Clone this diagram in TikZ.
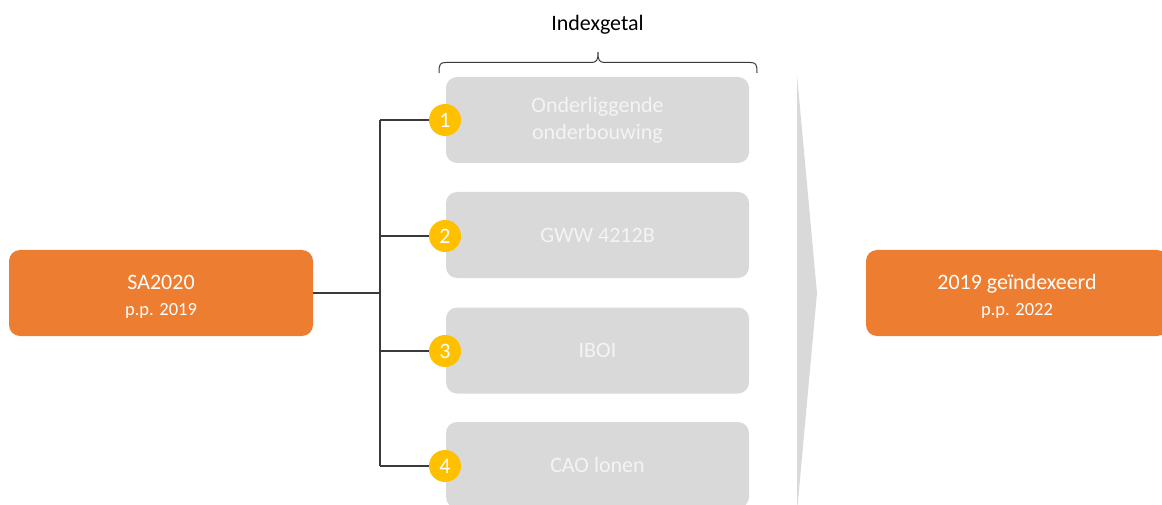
\documentclass[tikz,border=0pt]{standalone}
\usepackage{fontspec}
\setmainfont{Carlito}
\definecolor{orng}{HTML}{ED7D31}
\definecolor{grayb}{HTML}{D9D9D9}
\definecolor{yell}{HTML}{FFC000}
\definecolor{linec}{HTML}{3A3A3A}
\definecolor{gtext}{HTML}{F4F4F4}
\begin{document}
\begin{tikzpicture}[x=1pt,y=-1pt,
  obox/.style={fill=orng,rounded corners=11pt,minimum width=304pt,minimum height=86pt,inner sep=0pt},
  otext/.style={text=white,align=center,inner sep=0pt,font=\fontsize{18.5}{26}\selectfont},
  gbox/.style={fill=grayb,rounded corners=11pt,minimum width=303pt,minimum height=86pt,text=gtext,align=center,inner sep=0pt,font=\fontsize{22}{27}\selectfont},
  numc/.style={circle,fill=yell,minimum size=32pt,inner sep=0pt,text=white,font=\fontsize{22}{24}\selectfont},
  conn/.style={draw=linec,line width=1.3pt}]
\useasboundingbox (0,0) rectangle (1162,505);
\clip (0,0) rectangle (1162,505);
% chevron
\fill[grayb] (797,75) -- (817,293) -- (797,512) -- cycle;
% boxes
\node[obox] (sa) at (161,293) {};
\node[otext] (sat) at ([yshift=-3.5pt]sa.center) {{\fontsize{22}{26}\selectfont SA2020}\\{p.p. 2019}};
\node[obox,minimum width=302pt] (res) at (1017,293) {};
\node[otext] (rest) at ([yshift=-3.5pt]res.center) {{\fontsize{22}{26}\selectfont 2019 geïndexeerd}\\{p.p. 2022}};
\node[gbox] (g1) at (597.5,120) {Onderliggende\\onderbouwing};
\node[gbox] (g2) at (597.5,235) {GWW 4212B};
\node[gbox] (g3) at (597.5,350.5) {IBOI};
\node[gbox] (g4) at (597.5,465) {CAO lonen};
% connectors
\coordinate (sp1) at (380,120);
\coordinate (sp2) at (380,236);
\coordinate (sp3) at (380,351);
\coordinate (sp4) at (380,466);
\node[numc] (c1) at (445,120) {1};
\node[numc] (c2) at (445,236) {2};
\node[numc] (c3) at (445,351) {3};
\node[numc] (c4) at (445,466) {4};
\draw[conn] (sp1) -- (sp4);
\draw[conn] (sa.east) -- (sa.east -| sp1);
\draw[conn] (sp1) -- (c1.west);
\draw[conn] (sp2) -- (c2.west);
\draw[conn] (sp3) -- (c3.west);
\draw[conn] (sp4) -- (c4.west);
% brace
\node[font=\fontsize{22}{26}\selectfont,text=black] (idx) at (597.5,25) {Indexgetal};
\coordinate (bl) at (439,73);
\coordinate (br) at (757,73);
\coordinate (bt) at (598,52);
\draw[draw=linec,line width=1pt] (bl) .. controls (439,64) and (440,62.5) .. (446,62.5) -- (591,62.5) .. controls (597,62.5) and (598,60) .. (bt)
  .. controls (598,60) and (599,62.5) .. (605,62.5) -- (750,62.5) .. controls (756,62.5) and (757,64) .. (br);
\end{tikzpicture}
\end{document}
